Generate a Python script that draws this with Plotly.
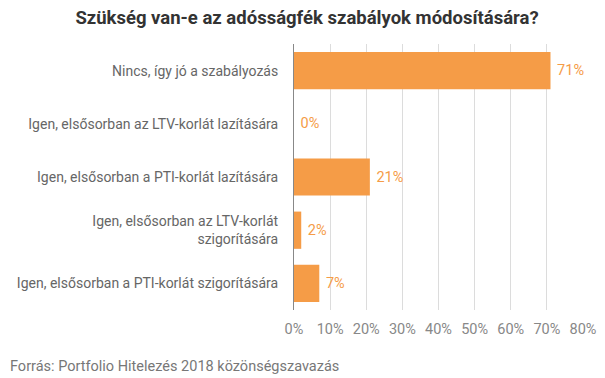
import plotly.graph_objects as go

categories = [
    "Nincs, így jó a szabályozás",
    "Igen, elsősorban az LTV-korlát lazítására",
    "Igen, elsősorban a PTI-korlát lazítására",
    "Igen, elsősorban az LTV-korlát<br>szigorítására",
    "Igen, elsősorban a PTI-korlát szigorítására",
]
values = [71, 0, 21, 2, 7]
x_ticks = [0, 10, 20, 30, 40, 50, 60, 70, 80]
x_tick_labels = [f"{t}%" for t in x_ticks]

orange = "#F59C47"
FS = 14.5
OFF = 8  # browser default body margin

W, H = 605 - OFF, 378 - OFF
L, R, T, B = 294 - OFF, 22, 44 - OFF, 68
PW, PH = W - L - R, H - T - B

fig = go.Figure(go.Bar(
    x=values,
    y=categories,
    orientation="h",
    marker=dict(color=orange, line=dict(width=0)),
    width=0.7,
    text=[f" {v}%" for v in values],
    textposition="outside",
    textfont=dict(color=orange, size=FS, family="Roboto"),
    cliponaxis=False,
    hoverinfo="skip",
))

fig.update_layout(
    width=W, height=H,
    margin=dict(l=L, r=R, t=T, b=B, autoexpand=False),
    paper_bgcolor="white", plot_bgcolor="white",
    font=dict(family="Roboto", color="#666"),
    title=dict(text="<b>Szükség van-e az adósságfék szabályok módosítására?</b>",
               x=(307 - OFF) / W, xanchor="center", y=1 - (18 - OFF) / H, yanchor="middle",
               font=dict(size=18.5, color="#333", family="Roboto")),
    showlegend=False,
    bargap=0.3,
)
fig.update_xaxes(
    range=[0, 80], tickvals=x_ticks, ticktext=x_tick_labels,
    showgrid=True, gridcolor="#dcdcdc", gridwidth=1,
    zeroline=False, showline=False, automargin=False,
    tickfont=dict(size=FS, color="#888"),
    ticks="", ticklabelstandoff=8,
)
fig.update_yaxes(
    autorange="reversed", automargin=False,
    showgrid=False, zeroline=False,
    showline=True, linecolor="#888", linewidth=1,
    tickfont=dict(size=14, color="#666"),
    ticks="", ticklabelstandoff=12,
)
fig.add_annotation(
    text="Forrás: Portfolio Hitelezés 2018 közönségszavazás",
    xref="paper", yref="paper", x=(8 - 294) / PW, y=(310 - 366) / PH,
    xanchor="left", yanchor="middle", showarrow=False,
    font=dict(size=FS, color="#777", family="Roboto"),
)

fig.write_html("out.html")
